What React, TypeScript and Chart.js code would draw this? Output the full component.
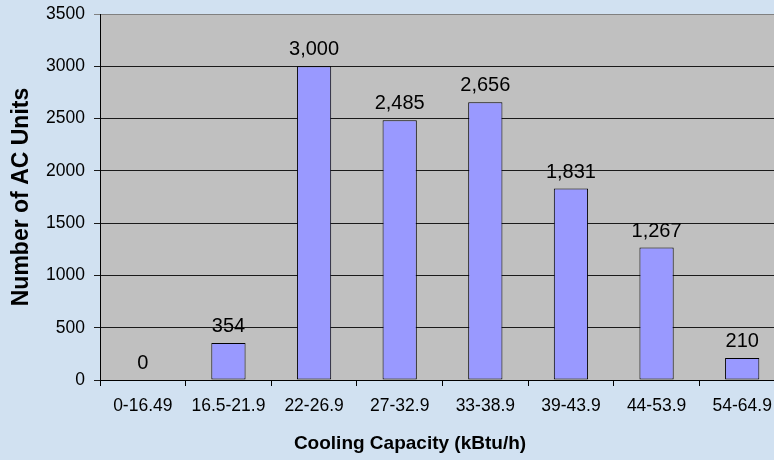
import React, { useEffect, useRef } from "react";
import { Chart, registerables } from "chart.js";

Chart.register(...registerables);

const categories = ["0-16.49", "16.5-21.9", "22-26.9", "27-32.9", "33-38.9", "39-43.9", "44-53.9", "54-64.9"];
const acUnits = [0, 354, 3000, 2485, 2656, 1831, 1267, 210];
const yMax = 3500;
const yStep = 500;
const xTitle = "Cooling Capacity (kBtu/h)";
const yTitle = "Number of AC Units";

const FONT = "'Liberation Sans', Arial, sans-serif";
const PAGE_BG = "rgb(209,225,241)";
const PLOT_BG = "#C0C0C0";

const bgPlugin = {
  id: "bgPlugin",
  beforeDraw(chart: any) {
    const { ctx, chartArea } = chart;
    ctx.save();
    ctx.fillStyle = PAGE_BG;
    ctx.fillRect(0, 0, chart.width, chart.height);
    ctx.fillStyle = PLOT_BG;
    ctx.fillRect(chartArea.left, chartArea.top, chartArea.right - chartArea.left, chartArea.bottom - chartArea.top);
    ctx.restore();
  },
};

const labelPlugin = {
  id: "labelPlugin",
  afterDatasetsDraw(chart: any) {
    const { ctx } = chart;
    const meta = chart.getDatasetMeta(0);
    const data = chart.data.datasets[0].data as number[];
    ctx.save();
    ctx.font = `20px ${FONT}`;
    ctx.fillStyle = "#000";
    ctx.textAlign = "center";
    ctx.textBaseline = "alphabetic";
    meta.data.forEach((bar: any, i: number) => {
      ctx.fillText(data[i].toLocaleString("en-US"), bar.x, bar.y - 11);
    });
    ctx.restore();
  },
};

const xTitlePlugin = {
  id: "xTitlePlugin",
  afterDraw(chart: any) {
    const { ctx } = chart;
    ctx.save();
    ctx.font = `bold 19px ${FONT}`;
    ctx.fillStyle = "#000";
    ctx.textAlign = "center";
    ctx.textBaseline = "alphabetic";
    ctx.fillText(xTitle, 410, 449);
    ctx.restore();
  },
};

export default function App() {
  const ref = useRef<HTMLCanvasElement | null>(null);

  useEffect(() => {
    document.body.style.margin = "0";
    document.body.style.overflow = "hidden";
    document.body.style.background = PAGE_BG;
    const chart = new Chart(ref.current as HTMLCanvasElement, {
      type: "bar",
      data: {
        labels: categories,
        datasets: [
          {
            data: acUnits,
            backgroundColor: "#9999FF",
            borderColor: "#000000",
            borderWidth: (c: any) => (c.raw === 0 ? 0 : 1),
            borderSkipped: false,
            barPercentage: 0.4,
            categoryPercentage: 1.0,
          },
        ],
      },
      options: {
        responsive: false,
        animation: false,
        layout: { padding: { top: 14, left: 0, right: 0, bottom: 0 } },
        plugins: {
          legend: { display: false },
          tooltip: { enabled: false },
        },
        scales: {
          x: {
            grid: {
              drawOnChartArea: false,
              drawTicks: true,
              tickLength: 6,
              color: "#000",
              offset: true,
            },
            border: { color: "#000", width: 1 },
            ticks: {
              color: "#000",
              font: { family: FONT, size: 17.5 },
              padding: 10,
              maxRotation: 0,
              autoSkip: false,
            },
            afterFit(scale: any) {
              scale.height = 80;
              scale.paddingLeft = 0;
              scale.paddingRight = 0;
            },
          },
          y: {
            min: 0,
            max: yMax,
            ticks: {
              stepSize: yStep,
              color: "#000",
              font: { family: FONT, size: 17.5 },
              padding: 9,
              callback: (v: any) => String(v),
            },
            grid: {
              color: (c: any) => (c.tick && c.tick.value === yMax ? "#808080" : "#1a1a1a"),
              tickLength: 6,
              drawTicks: true,
            },
            border: { color: "#000", width: 1 },
            title: {
              display: true,
              text: yTitle,
              color: "#000",
              font: { family: FONT, size: 23, weight: "bold" },
              padding: { top: 8, bottom: 0 },
            },
            afterFit(scale: any) {
              scale.width = 100;
              scale.paddingTop = 0;
              scale.paddingBottom = 0;
            },
          },
        },
      },
      plugins: [bgPlugin, labelPlugin, xTitlePlugin],
    } as any);
    return () => chart.destroy();
  }, []);

  return (
    <canvas
      ref={ref}
      width={785}
      height={460}
      style={{ position: "absolute", left: 0, top: 0, width: 785, height: 460 }}
    />
  );
}
